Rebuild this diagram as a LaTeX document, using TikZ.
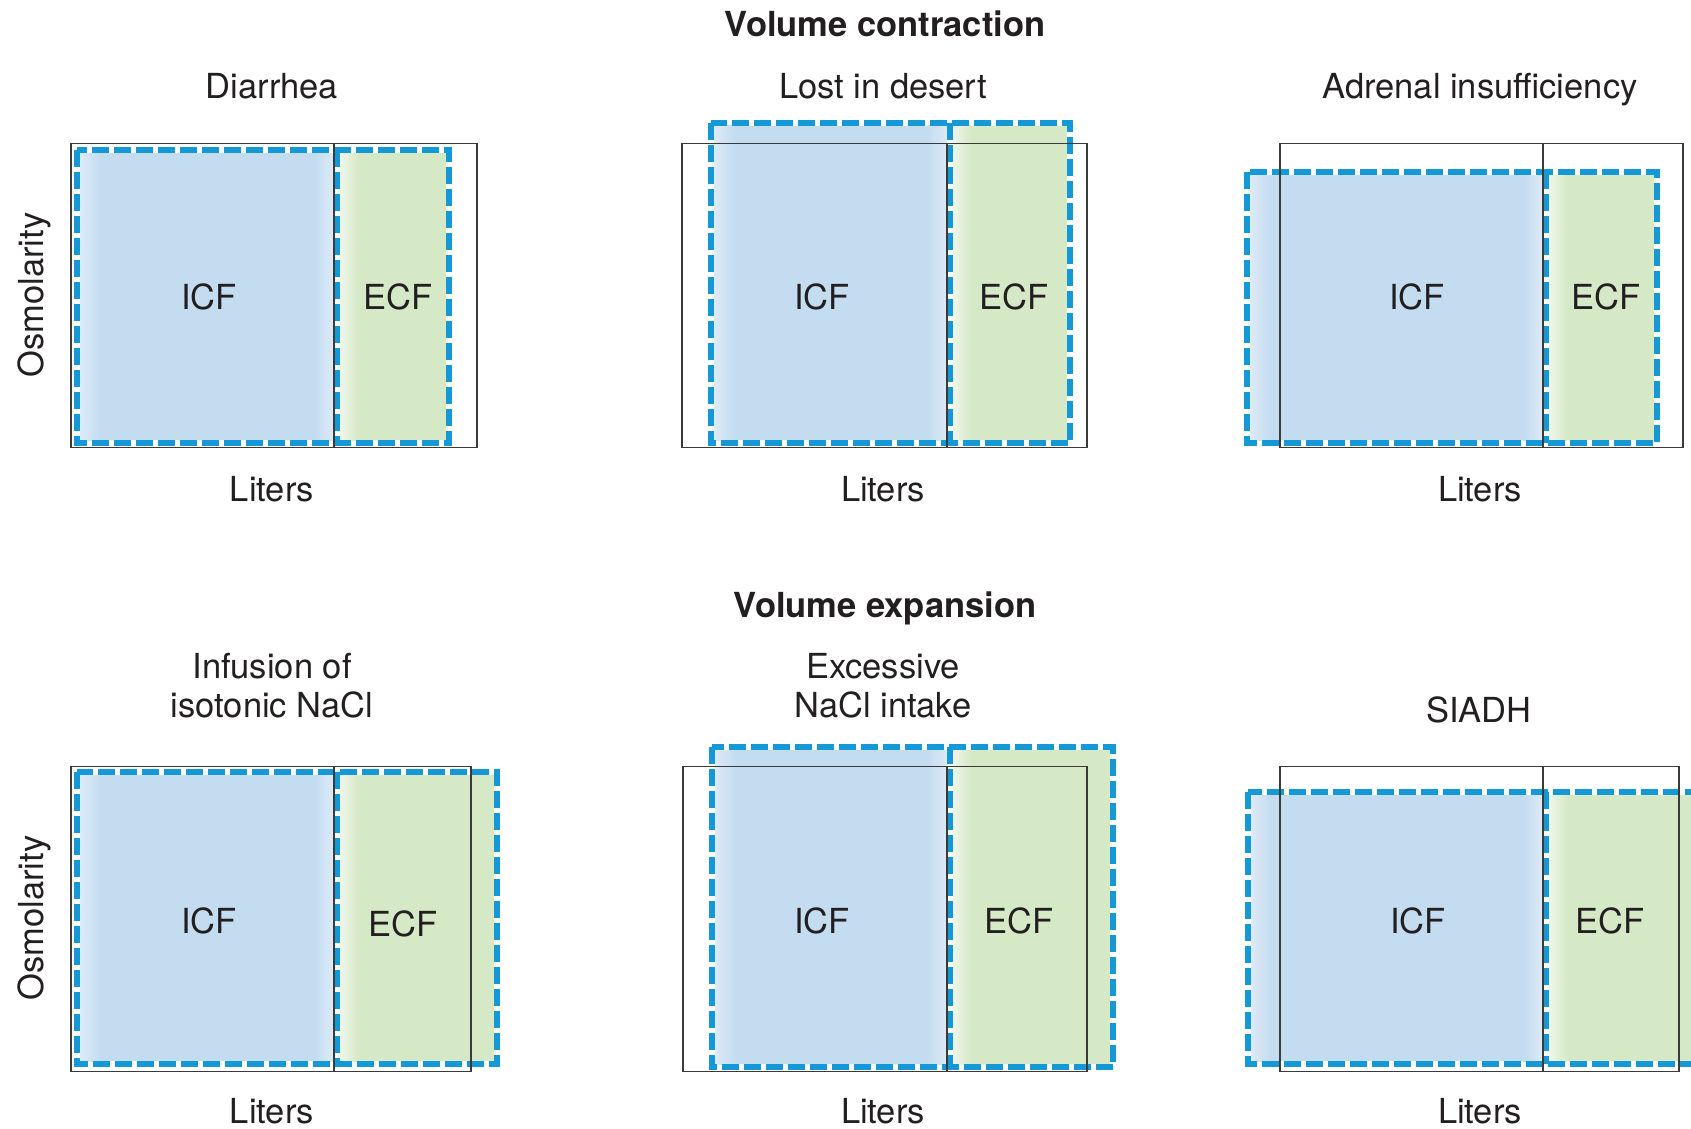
\documentclass[tikz,border=0pt]{standalone}
\usepackage{fontspec}
\setmainfont{TeX Gyre Heros}
\definecolor{dashblue}{HTML}{1599D6}
\definecolor{icf}{HTML}{C3DCF0}
\definecolor{icflight}{HTML}{DDEAF7}
\definecolor{ecf}{HTML}{D6E9C7}
\definecolor{ecflight}{HTML}{EEF6EA}
\definecolor{boxgray}{HTML}{3A3A3A}
\definecolor{txt}{HTML}{231F20}
\tikzset{
  dashbox/.style={draw=dashblue, line width=6pt, dash pattern=on 17pt off 5pt, line join=miter},
  blackbox/.style={draw=boxgray, line width=1.6pt},
  lbl/.style={font=\fontsize{34.5}{40}\selectfont, text=txt, inner sep=0pt, anchor=base},
  ttl/.style={font=\fontsize{34.5}{40}\selectfont\bfseries, text=txt, inner sep=0pt, anchor=base},
}
% #1 black left, #2 black right, #3 black top, #4 black bottom, #5 divider,
% #6 dashed left, #7 dashed right, #8 dashed top, #9 dashed bottom
\newcommand\fluidpanel[9]{%
  \fill[icf] ({#6+3},{#8+3}) rectangle (#5,{#9-3});
  \shade[left color=icflight,right color=icf] ({#6+3},{#8+3}) rectangle ({#6+24},{#9-3});
  \shade[left color=icf,right color=icflight] ({#5-20},{#8+3}) rectangle (#5,{#9-3});
  \fill[ecf] ({#5+6},{#8+3}) rectangle ({#7-3},{#9-3});
  \shade[left color=ecflight,right color=ecf] ({#5+6},{#8+3}) rectangle ({#5+24},{#9-3});
  \draw[dashbox] (#6,#8) rectangle (#7,#9);
  \draw[dashbox] ({#5+3},#8) -- ({#5+3},#9);
  \draw[blackbox] (#1,#3) rectangle (#2,#4);
  \draw[blackbox] (#5,#3) -- (#5,#4);
}
\begin{document}
\begin{tikzpicture}[x=1pt,y=-1pt]
\useasboundingbox (0,0) rectangle (1691,1129);
\begin{scope}
\clip (0,0) rectangle (1691,1129);
% top row
\fluidpanel{71}{477}{143.5}{447.5}{334}{77}{449}{150}{443}
\fluidpanel{682}{1087}{143.5}{447.5}{947}{711}{1070}{123}{443}
\fluidpanel{1280}{1683}{143.5}{447.5}{1543}{1247}{1657}{172}{443}
% bottom row
\fluidpanel{71}{471}{766.5}{1071.5}{334}{77}{497}{772}{1064}
\fluidpanel{683}{1087}{766.5}{1071.5}{947}{712}{1113}{747}{1067}
\fluidpanel{1280}{1679}{766.5}{1071.5}{1543}{1248}{1720}{792}{1064}
\end{scope}
% titles
\node[ttl] (tcon) at (885,37) {Volume contraction};
\node[ttl] (texp) at (885,617) {Volume expansion};
\node[lbl] (t1) at (272,99) {Diarrhea};
\node[lbl] (t2) at (883,99) {Lost in desert};
\node[lbl] (t3) at (1480,99) {Adrenal insufficiency};
\node[lbl] (t4a) at (272,678) {Infusion of};
\node[lbl] (t4b) at (272,717) {isotonic NaCl};
\node[lbl] (t5a) at (883,678) {Excessive};
\node[lbl] (t5b) at (883,717) {NaCl intake};
\node[lbl] (t6) at (1479,722) {SIADH};
% compartment labels
\node[lbl] (i1) at (209,309) {ICF};
\node[lbl] (e1) at (398,309) {ECF};
\node[lbl] (i2) at (822,309) {ICF};
\node[lbl] (e2) at (1014,309) {ECF};
\node[lbl] (i3) at (1417,309) {ICF};
\node[lbl] (e3) at (1606,309) {ECF};
\node[lbl] (i4) at (209,933) {ICF};
\node[lbl] (e4) at (403,936) {ECF};
\node[lbl] (i5) at (822,933) {ICF};
\node[lbl] (e5) at (1019,933) {ECF};
\node[lbl] (i6) at (1418,933) {ICF};
\node[lbl] (e6) at (1610,933) {ECF};
% axis labels
\node[lbl] (l1) at (272,501) {Liters};
\node[lbl] (l2) at (883,501) {Liters};
\node[lbl] (l3) at (1480,501) {Liters};
\node[lbl] (l4) at (272,1123) {Liters};
\node[lbl] (l5) at (883,1123) {Liters};
\node[lbl] (l6) at (1480,1123) {Liters};
\node[lbl,rotate=90] (o1) at (43,295) {Osmolarity};
\node[lbl,rotate=90] (o4) at (43,918) {Osmolarity};
\end{tikzpicture}
\end{document}
